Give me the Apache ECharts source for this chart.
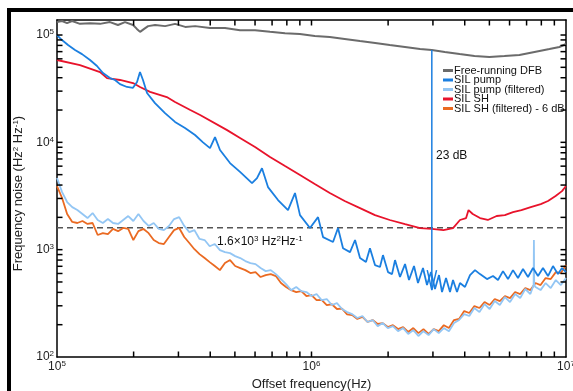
<!DOCTYPE html>
<html>
<head>
<meta charset="utf-8">
<script src="https://cdn.jsdelivr.net/npm/echarts@6/dist/echarts.min.js"></script>
<style>html,body{margin:0;padding:0;background:#fff}#c{width:573px;height:391px}</style>
</head>
<body>
<div id="c"></div>
<script>
// ---------- data (Hz, Hz^2/Hz) ----------
const dfbFreq = [1.00e5,1.047e5,1.095e5,1.146e5,1.231e5,1.348e5,1.476e5,1.615e5,1.736e5,1.85e5,1.99e5,2.06e5,2.12e5,2.2e5,2.28e5,2.43e5,2.66e5,2.91e5,3.19e5,3.49e5,3.99e5,4.57e5,5.24e5,6.0e5,6.87e5,7.87e5,9.0e5,1.03e6,1.18e6,1.35e6,1.55e6,1.78e6,2.03e6,2.33e6,2.67e6,2.97e6,3.34e6,3.82e6,4.37e6,5.0e6,5.73e6,6.56e6,7.52e6,8.61e6,9.42e6,1e7];
const dfbNoise = [1.32e5,1.35e5,1.29e5,1.35e5,1.27e5,1.29e5,1.27e5,1.32e5,1.24e5,1.32e5,1.24e5,1.14e5,1.07e5,1.14e5,1.21e5,1.24e5,1.21e5,1.27e5,1.19e5,1.21e5,1.16e5,1.16e5,1.11e5,1.11e5,1.07e5,1.04e5,1.02e5,9.8e4,9.58e4,9.18e4,8.79e4,8.42e4,8.07e4,7.73e4,7.4e4,7.25e4,6.94e4,6.64e4,6.37e4,6.24e4,6.37e4,6.51e4,6.94e4,7.4e4,7.73e4,8.24e4];

const pumpFreq = [1.000e5,1.046e5,1.105e5,1.177e5,1.254e5,1.348e5,1.436e5,1.516e5,1.615e5,1.690e5,1.768e5,1.884e5,1.989e5,2.063e5,2.119e5,2.177e5,2.258e5,2.427e5,2.657e5,2.909e5,3.184e5,3.486e5,3.747e5,3.992e5,4.177e5,4.370e5,4.784e5,5.238e5,5.837e5,6.107e5,6.389e5,6.746e5,7.386e5,8.085e5,8.613e5,9.011e5,9.865e5,1.061e6,1.110e6,1.215e6,1.271e6,1.330e6,1.417e6,1.483e6,1.551e6,1.637e6,1.697e6,1.776e6,1.858e6,1.909e6,1.998e6,2.072e6,2.129e6,2.227e6,2.331e6,2.416e6,2.528e6,2.621e6,2.742e6,2.843e6,2.948e6,3.056e6,3.170e6,3.257e6,3.377e6,3.501e6,3.598e6,3.730e6,3.832e6,4.010e6,4.196e6,4.390e6,4.593e6,4.893e6,5.166e6,5.405e6,5.655e6,5.917e6,6.191e6,6.477e6,6.777e6,7.091e6,7.419e6,7.762e6,8.121e6,8.497e6,8.890e6,9.301e6,9.645e6,1.000e7];
const pumpNoise = [1.0e5,8.98e4,8.07e4,7.25e4,6.64e4,5.85e4,5.14e4,4.42e4,3.97e4,3.81e4,3.49e4,3.28e4,3.22e4,3.65e4,4.52e4,3.81e4,2.88e4,2.32e4,1.87e4,1.55e4,1.36e4,1.17e4,1.0e4,8840,1.12e4,8480,6410,5300,4170,4650,5740,3830,2900,2340,3370,2100,1590,2010,1310,1180,1590,1030,949,1230,835,766,1030,719,689,890,618,592,800,556,734,521,704,489,674,468,618,430,580,403,544,403,521,403,489,449,580,645,592,532,568,521,631,532,645,544,660,556,674,568,674,568,704,592,674,618];

const shFreq = [1.0e5,1.231e5,1.476e5,1.572e5,1.768e5,1.989e5,2.119e5,2.32e5,2.7e5,2.909e5,3.34e5,3.65e5,4.66e5,5.238e5,6.0e5,6.87e5,7.87e5,9.011e5,1.03e6,1.18e6,1.35e6,1.551e6,1.776e6,2.03e6,2.331e6,2.67e6,2.97e6,3.3e6,3.598e6,3.832e6,4.05e6,4.14e6,4.3e6,4.593e6,4.93e6,5.34e6,5.75e6,6.191e6,6.68e6,7.27e6,7.96e6,8.497e6,9.1e6,9.645e6,1e7];
const shNoise = [5.85e4,5.25e4,4.52e4,3.97e4,3.81e4,3.57e4,3.28e4,2.95e4,2.64e4,2.38e4,2.0e4,1.8e4,1.3e4,1.1e4,9040,7300,6010,4960,4090,3370,2840,2440,2100,1890,1730,1590,1560,1520,1590,1890,1970,2340,2150,1970,1890,2060,2100,2240,2340,2490,2660,2840,3160,3510,3920];

const filtFreq = [1.000e5,1.047e5,1.096e5,1.148e5,1.202e5,1.259e5,1.318e5,1.380e5,1.445e5,1.514e5,1.585e5,1.660e5,1.738e5,1.820e5,1.905e5,1.995e5,2.089e5,2.188e5,2.291e5,2.399e5,2.512e5,2.630e5,2.754e5,2.884e5,3.020e5,3.162e5,3.311e5,3.467e5,3.631e5,3.802e5,3.981e5,4.169e5,4.365e5,4.571e5,4.786e5,5.012e5,5.248e5,5.495e5,5.754e5,6.026e5,6.310e5,6.607e5,6.918e5,7.244e5,7.586e5,7.943e5,8.318e5,8.710e5,9.120e5,9.550e5,1.000e6,1.047e6,1.096e6,1.148e6,1.202e6,1.259e6,1.318e6,1.380e6,1.445e6,1.514e6,1.585e6,1.660e6,1.738e6,1.820e6,1.905e6,1.995e6,2.089e6,2.188e6,2.291e6,2.399e6,2.512e6,2.630e6,2.754e6,2.884e6,3.020e6,3.162e6,3.311e6,3.467e6,3.631e6,3.802e6,3.981e6,4.169e6,4.365e6,4.571e6,4.786e6,5.012e6,5.248e6,5.495e6,5.754e6,6.026e6,6.310e6,6.607e6,6.918e6,7.244e6,7.586e6,7.943e6,8.318e6,8.710e6,9.120e6,9.550e6,1.000e7];
const pumpFiltNoise = [4651,3440,2779,2491,2340,2148,1970,2194,1890,1772,1928,1772,1735,1890,2056,1850,2148,1850,1664,1772,1560,1520,1664,1928,2012,1664,1456,1520,1258,1230,1077,1129,991,949,929,871,835,783,750,734,674,631,645,592,532,478,420,449,411,403,370,386,339,347,305,318,280,262,251,231,241,212,221,194,207,186,194,174,186,164,178,157,174,160,182,167,186,174,207,221,251,241,286,262,311,280,332,305,362,325,386,354,430,386,449,420,489,439,521,468,544];
const pumpSpikeFreq = [7.46e6,7.48e6,7.50e6];
const pumpSpikeNoise = [470,1230,470];
const shFiltNoise = [3915,3029,2148,1811,1772,1850,1735,1772,1370,1425,1395,1560,1488,1594,1560,1230,1488,1560,1425,1230,1153,1129,1313,1520,1594,1313,1153,1010,909,835,766,704,645,750,800,704,674,645,605,618,556,580,592,568,489,449,420,403,411,370,378,339,340,305,310,280,282,250,246,226,236,212,221,203,207,190,198,182,190,171,186,167,182,164,182,174,198,186,221,226,268,257,298,286,325,305,347,332,370,354,403,386,439,420,489,468,544,532,618,605,719];

const refLevel = 1.6e3;
const arrowFreq = 2.97e6;
const arrowTop = 7.25e4, arrowTip = 420, arrowWing = 645, arrowWingFreq = [2.85e6, 3.1e6];

const xMin = 1e5, xMax = 1e7, yMin = 100, yMax = 1.38e5;
const xTickVals = [2e5,3e5,4e5,5e5,6e5,7e5,8e5,9e5,1e6,2e6,3e6,4e6,5e6,6e6,7e6,8e6,9e6];
const yTickVals = [200,300,400,500,600,700,800,900,1e3,2e3,3e3,4e3,5e3,6e3,7e3,8e3,9e3,1e4,2e4,3e4,4e4,5e4,6e4,7e4,8e4,9e4,1e5];

const names = ['Free-running DFB','SIL pump','SIL pump (filtered)','SIL SH','SIL SH (filtered) - 6 dB'];
const colors = {dfb:'#6b6b6b', pump:'#1b7fe0', pumpF:'#93c6f4', sh:'#e8132b', shF:'#ea6a22'};

// ---------- layout ----------
const W = 573, H = 391;
const grid = {left:57, right:7, top:20, bottom:34};
const tickLen = 5.5;

// ---------- build ----------
const zip = (a,b) => a.map((v,i)=>[v,b[i]]);
const pumpFiltData = zip(filtFreq,pumpFiltNoise).concat(zip(pumpSpikeFreq,pumpSpikeNoise)).sort((p,q)=>p[0]-q[0]);

const font = "'Liberation Sans', Arial, sans-serif";
const supRich = {b:{fontSize:12,color:'#222',fontFamily:font,lineHeight:14}, s:{fontSize:8,color:'#222',fontFamily:font,verticalAlign:'top',lineHeight:14}};
const fmt = v => '{b|10}{s|' + Math.round(Math.log10(v)) + '}';

function xa(pos, main){
  return {type:'log', logBase:10, min:xMin, max:xMax, position:pos, gridIndex:0,
    axisLine:{show:true, onZero:false, lineStyle:{color:'#000', width:1.5}},
    axisTick:{show:false}, minorTick:{show:false}, splitLine:{show:false},
    axisLabel:{show:main, formatter:fmt, rich:supRich, margin:3},
    name: main ? 'Offset frequency(Hz)' : '', nameLocation:'middle', nameGap:19,
    nameTextStyle:{fontSize:13, color:'#222', fontFamily:font}};
}
function ya(pos, main){
  return {type:'log', logBase:10, min:yMin, max:yMax, position:pos, gridIndex:0,
    axisLine:{show:true, onZero:false, lineStyle:{color:'#000', width:1.5}},
    axisTick:{show:false}, minorTick:{show:false}, splitLine:{show:false},
    axisLabel:{show:main, formatter:v => (v > 1.01e5 ? '' : fmt(v)), rich:supRich, margin:3},
    name: main ? 'Frequency noise (Hz{s|2} Hz{s|-1})' : '', nameLocation:'middle', nameGap:21,
    nameTextStyle:{fontSize:13, color:'#222', fontFamily:font, padding:[0,10,0,0], rich:{s:{fontSize:8,color:'#222',fontFamily:font,verticalAlign:'top',lineHeight:15}}}};
}
const line = (name, data, color, w) => ({name, type:'line', data, showSymbol:false, symbol:'none', color, lineStyle:{color, width:w}, animation:false, silent:true, z:2});

// inward tick marks as short line segments, drawn through the log axes
const yFac = Math.pow(10, tickLen * Math.log10(yMax / yMin) / (H - grid.top - grid.bottom));
const xFac = Math.pow(10, tickLen * Math.log10(xMax / xMin) / (W - grid.left - grid.right));
const tickSeries = [];
const tickLine = d => ({type:'line', data:d, showSymbol:false, symbol:'none', silent:true, animation:false, z:6, clip:false,
  lineStyle:{color:'#000', width:1.5}, tooltip:{show:false}});
xTickVals.forEach(v => {
  tickSeries.push(tickLine([[v, yMin], [v, yMin * yFac]]));
  tickSeries.push(tickLine([[v, yMax], [v, yMax / yFac]]));
});
yTickVals.forEach(v => {
  tickSeries.push(tickLine([[xMin, v], [xMin * xFac, v]]));
  tickSeries.push(tickLine([[xMax, v], [xMax / xFac, v]]));
});

const chart = echarts.init(document.getElementById('c'), null, {renderer:'canvas'});
chart.setOption({
  animation:false,
  backgroundColor:'#fff',
  textStyle:{fontFamily:font},
  grid:Object.assign({containLabel:false, outerBoundsMode:'none'}, grid),
  xAxis:[xa('bottom',true), xa('top',false)],
  yAxis:[ya('left',true), ya('right',false)],
  legend:{orient:'vertical', left:443, top:65, padding:0, itemWidth:10, itemHeight:3, itemGap:-1.5, icon:'rect',
    data:names, selectedMode:false,
    textStyle:{fontSize:11, color:'#111', fontFamily:font, padding:[0,0,0,-4]}},
  graphic:[
    {type:'rect', shape:{x:9, y:10, width:800, height:600}, style:{fill:'none', stroke:'#000', lineWidth:4}, silent:true, z:100},
    {type:'text', left:436, top:150, style:{text:'23 dB', fontSize:12, fill:'#111', fontFamily:font}, z:50},
    {type:'text', left:217, top:235, style:{text:'1.6×10{s|3} Hz{s|2}Hz{s|-1}', fontSize:12, fill:'#111', fontFamily:font,
      rich:{s:{fontSize:8, fill:'#111', fontFamily:font, verticalAlign:'top', lineHeight:14}}}, z:50}
  ],
  series:[
    Object.assign(line('', [[xMin,refLevel],[xMax,refLevel]], '#555', 1.5), {lineStyle:{color:'#555', width:1.5, type:[6,4]}}),
    line(names[0], zip(dfbFreq,dfbNoise), colors.dfb, 2),
    line(names[4], zip(filtFreq,shFiltNoise), colors.shF, 1.8),
    line(names[2], pumpFiltData, colors.pumpF, 1.8),
    line(names[3], zip(shFreq,shNoise), colors.sh, 1.8),
    line(names[1], zip(pumpFreq,pumpNoise), colors.pump, 1.8),
    line('arrow', [[arrowFreq,arrowTop],[arrowFreq,arrowTip]], colors.pump, 1.5),
    line('arrowhead', [[arrowWingFreq[0],arrowWing],[arrowFreq,arrowTip],[arrowWingFreq[1],arrowWing]], colors.pump, 1.5)
  ].concat(tickSeries)
});
</script>
</body>
</html>
